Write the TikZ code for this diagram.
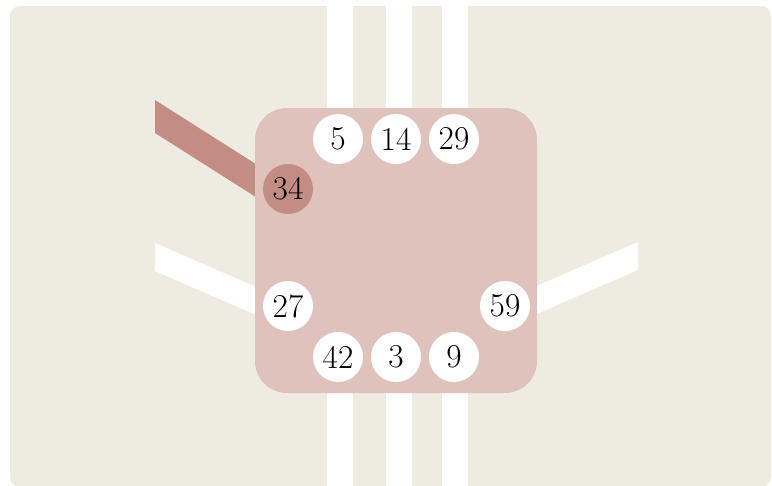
\documentclass[tikz,border=0pt]{standalone}
\usepackage{tikz}
\usetikzlibrary{calc}

\definecolor{paper}{HTML}{EEEBE0}
\definecolor{boxpink}{HTML}{DFC2BC}
\definecolor{rust}{HTML}{C48D83}

\begin{document}
\begin{tikzpicture}[x=0.75pt,y=-0.75pt,
  ball/.style={circle,fill=white,minimum size=37.5pt,inner sep=0pt,
    font=\fontsize{25}{25}\selectfont},
  bar/.style={white,line width=19.5pt}]

\useasboundingbox (0,0) rectangle (772,486);
\clip (0,0) rectangle (772,486);

% Background sheet
\fill[paper,rounded corners=7.5pt] (10,6) rectangle (771,487);

% Vertical lanes
\foreach \x in {340,398.5,455}
{
\draw[bar] (\x,6) -- (\x,486);
}

% Slanted lanes
\fill[rust] (155,100) -- (155,133) -- (270,206) -- (270,173) -- cycle;
\fill[white] (155,243) -- (155,271) -- (270,321) -- (270,293) -- cycle;
\fill[white] (638,242) -- (638,270) -- (525,319) -- (525,291) -- cycle;

% Block
\fill[boxpink,rounded corners=24pt] (255,108) rectangle (537,393);

% Stops
\foreach \x/\t in {338/5,396/14,454/29}
{
\node[ball] (n\t) at (\x,139) {\t};
}
\foreach \x/\t in {338/42,396/3,454/9}
{
\node[ball] (n\t) at (\x,357) {\t};
}
\node[ball,fill=rust] (n34) at (288,189) {34};
\node[ball] (n27) at (288,306) {27};
\node[ball] (n59) at (505,306) {59};

\end{tikzpicture}
\end{document}
